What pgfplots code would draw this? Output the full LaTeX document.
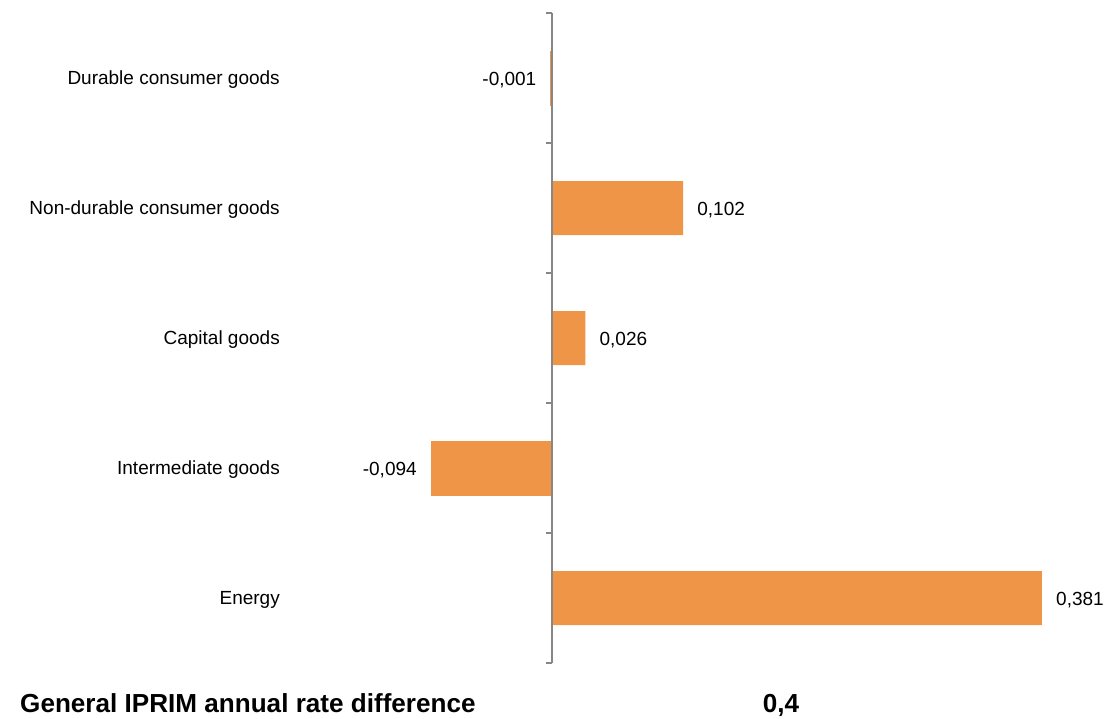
\documentclass[border=0pt]{standalone}
\usepackage{pgfplots}
\pgfplotsset{compat=1.18}
\usepackage{fontspec}
\setmainfont{Liberation Sans}
\definecolor{barorange}{RGB}{238,149,72}
\definecolor{axisgray}{RGB}{134,134,134}
\begin{document}
\begin{tikzpicture}
\path[use as bounding box] (0pt,0pt) rectangle (1106pt,-718pt);
\begin{axis}[
  at={(294.8pt,-663pt)}, anchor=south west,
  scale only axis, width=810.2pt, height=650pt,
  xmin=-0.2, xmax=0.43, ymin=-0.5, ymax=4.5,
  clip=false,
  axis line style={draw=none},
  xtick=\empty,
  ytick={0,1,2,3,4},
  yticklabels={Energy, Intermediate goods, Capital goods, Non-durable consumer goods, Durable consumer goods},
  major tick length=0pt,
  tick style={draw=none},
  yticklabel style={anchor=east, inner sep=0pt, xshift=-14.8pt, yshift=-2pt, font=\fontsize{19}{22}\selectfont, text=black},
  xbar, bar width=54pt, bar shift=0pt,
  /pgf/number format/.cd, use comma, fixed, fixed zerofill, precision=3, assume math mode=true,
]
\addplot[fill=barorange, draw=none,
  nodes near coords,
  nodes near coords style={anchor=west, inner sep=0pt, xshift=14pt, yshift=-2pt, font=\fontsize{19}{22}\selectfont, text=black}]
  coordinates {(0.381,0) (0.026,2) (0.102,3)};
\addplot[fill=barorange, draw=barorange, line width=0.8pt,
  nodes near coords,
  nodes near coords style={anchor=east, inner sep=0pt, xshift=-14pt, yshift=-2pt, font=\fontsize{19}{22}\selectfont, text=black}]
  coordinates {(-0.094,1) (-0.001,4)};
\draw[axisgray, line width=1.6pt] (axis cs:0,-0.5) -- (axis cs:0,4.5);
\pgfplotsinvokeforeach{-0.5,0.5,1.5,2.5,3.5,4.5}{
  \draw[axisgray, line width=1.4pt] (axis cs:0,#1) -- ++(-6pt,0pt);
}
\end{axis}
\node[anchor=base west, inner sep=0pt, font=\fontsize{26.1}{28}\selectfont\bfseries] at (20pt,-712pt) {General IPRIM annual rate difference};
\node[anchor=base, inner sep=0pt, font=\fontsize{26.1}{28}\selectfont\bfseries] at (781pt,-712pt) {0,4};
\end{tikzpicture}
\end{document}
